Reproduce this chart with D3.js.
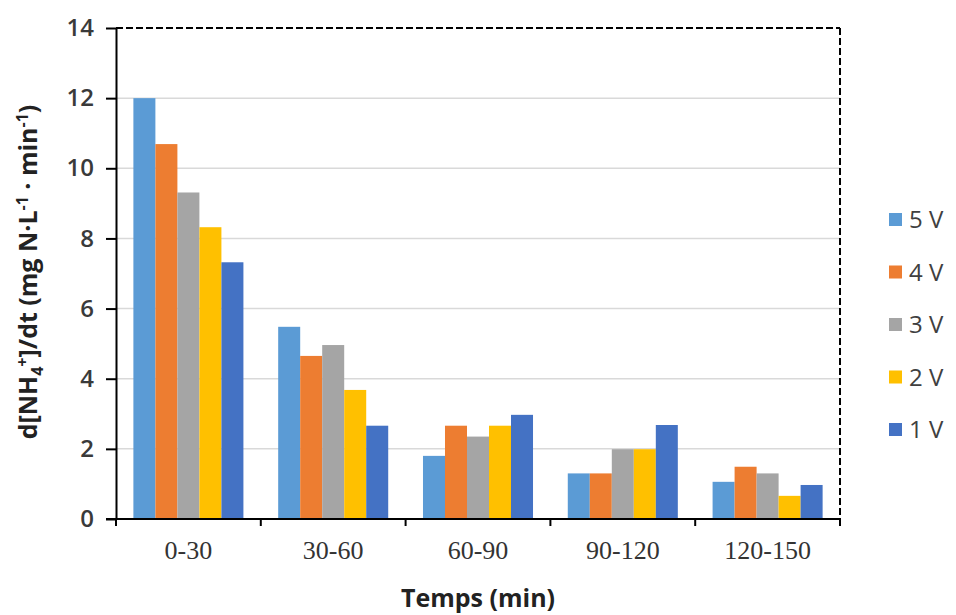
<!DOCTYPE html>
<html>
<head>
<meta charset="utf-8">
<script src="https://cdn.jsdelivr.net/npm/d3@7"></script>
<style>
  html, body { margin: 0; padding: 0; background: #ffffff; }
  svg { display: block; }
</style>
</head>
<body>
<svg id="chart" width="956" height="615"></svg>
<script>
// ---- data ----
const categories = ["0-30", "30-60", "60-90", "90-120", "120-150"];
const seriesNames = ["5 V", "4 V", "3 V", "2 V", "1 V"];
const values5V = [12.0, 5.48, 1.80, 1.30, 1.06];
const values4V = [10.69, 4.65, 2.66, 1.30, 1.49];
const values3V = [9.31, 4.96, 2.35, 1.99, 1.30];
const values2V = [8.32, 3.68, 2.66, 1.99, 0.66];
const values1V = [7.32, 2.66, 2.97, 2.68, 0.97];
const seriesColors = ["#5B9BD5", "#ED7D31", "#A5A5A5", "#FFC000", "#4472C4"];
const yTicks = [0, 2, 4, 6, 8, 10, 12, 14];

const seriesValues = [values5V, values4V, values3V, values2V, values1V];

// ---- layout ----
const svg = d3.select("#chart");
const L = 116, R = 840, T = 28, B = 519;

const y = d3.scaleLinear().domain([0, 14]).range([B, T]);
const x0 = d3.scaleBand().domain(categories).range([L, R]).paddingInner(0).paddingOuter(0);
const x1 = d3.scaleBand().domain(seriesNames).range([0, x0.bandwidth()]).paddingInner(0).paddingOuter(0.79);
const color = d3.scaleOrdinal().domain(seriesNames).range(seriesColors);

// gridlines
svg.append("g").selectAll("line")
  .data(yTicks.filter(d => d > 0 && d < 14))
  .join("line")
  .attr("x1", L).attr("x2", R)
  .attr("y1", d => y(d)).attr("y2", d => y(d))
  .attr("stroke", "#d9d9d9").attr("stroke-width", 1.5);

// bars
const groups = svg.append("g").selectAll("g")
  .data(categories)
  .join("g")
  .attr("transform", c => `translate(${x0(c)},0)`);

groups.selectAll("rect")
  .data((c, ci) => seriesNames.map((s, si) => ({ s, v: seriesValues[si][ci] })))
  .join("rect")
  .attr("x", d => x1(d.s))
  .attr("width", x1.bandwidth())
  .attr("y", d => y(d.v))
  .attr("height", d => y(0) - y(d.v))
  .attr("fill", d => color(d.s));

// dashed border top and right
svg.append("line").attr("x1", L).attr("x2", R).attr("y1", T).attr("y2", T)
  .attr("stroke", "#000").attr("stroke-width", 2).attr("stroke-dasharray", "7,3");
svg.append("line").attr("x1", R).attr("x2", R).attr("y1", T).attr("y2", B)
  .attr("stroke", "#000").attr("stroke-width", 2).attr("stroke-dasharray", "7,3");

// left axis
const yAxis = svg.append("g")
  .attr("transform", `translate(${L},0)`)
  .call(d3.axisLeft(y).tickValues(yTicks).tickSize(10).tickSizeOuter(0).tickPadding(12));
yAxis.select(".domain").attr("stroke", "#000").attr("stroke-width", 2);
yAxis.selectAll(".tick line").attr("stroke", "#000").attr("stroke-width", 2);
yAxis.selectAll(".tick text")
  .style("font-family", "'Open Sans', sans-serif")
  .style("font-size", "24px")
  .style("font-weight", "600")
  .attr("fill", "#3a3a3a");

// bottom axis
const xAxis = svg.append("g")
  .attr("transform", `translate(0,${B})`)
  .call(d3.axisBottom(x0).tickSize(0).tickSizeOuter(0));
xAxis.select(".domain").remove();
xAxis.selectAll(".tick text")
  .attr("y", 40).attr("dy", 0)
  .style("font-family", "'Liberation Serif', 'Times New Roman', serif")
  .style("font-size", "26px")
  .attr("fill", "#333");
svg.append("line").attr("x1", L - 10).attr("x2", R).attr("y1", B).attr("y2", B)
  .attr("stroke", "#000").attr("stroke-width", 2);
// boundary ticks between categories
const boundaries = categories.map(c => x0(c)).concat([x0(categories[categories.length - 1]) + x0.step()]);
svg.append("g").selectAll("line")
  .data(boundaries)
  .join("line")
  .attr("x1", d => d).attr("x2", d => d)
  .attr("y1", B).attr("y2", B + 7)
  .attr("stroke", "#000").attr("stroke-width", 2);

// axis titles
svg.append("text")
  .attr("x", (L + R) / 2).attr("y", 607)
  .attr("text-anchor", "middle")
  .style("font-family", "'Open Sans', sans-serif")
  .style("font-weight", "700")
  .style("font-size", "25px")
  .attr("fill", "#222")
  .text("Temps (min)");

const yt = svg.append("text")
  .attr("transform", "translate(37,272) rotate(-90)")
  .attr("text-anchor", "middle")
  .style("font-family", "'Open Sans', sans-serif")
  .style("font-weight", "700")
  .style("font-size", "25px")
  .attr("fill", "#222");
yt.append("tspan").text("d[NH");
yt.append("tspan").style("font-size", "16px").attr("dy", 6).text("4");
yt.append("tspan").style("font-size", "16px").attr("dy", -15).text("+");
yt.append("tspan").attr("dy", 9).text("]/dt (mg N·L");
yt.append("tspan").style("font-size", "16px").attr("dy", -9).text("-1");
yt.append("tspan").attr("dy", 9).text(" · min");
yt.append("tspan").style("font-size", "16px").attr("dy", -9).text("-1");
yt.append("tspan").attr("dy", 9).text(")");

// legend
const legend = svg.append("g").selectAll("g")
  .data(seriesNames)
  .join("g")
  .attr("transform", (d, i) => `translate(889,${220 + i * 52.5})`);
legend.append("rect")
  .attr("x", 0).attr("y", -7).attr("width", 13).attr("height", 13)
  .attr("fill", d => color(d));
legend.append("text")
  .attr("x", 20).attr("y", 0).attr("dy", "0.35em")
  .style("font-family", "'Open Sans', sans-serif")
  .style("font-size", "24px")
  .attr("fill", "#404040")
  .text(d => d);
</script>
</body>
</html>
